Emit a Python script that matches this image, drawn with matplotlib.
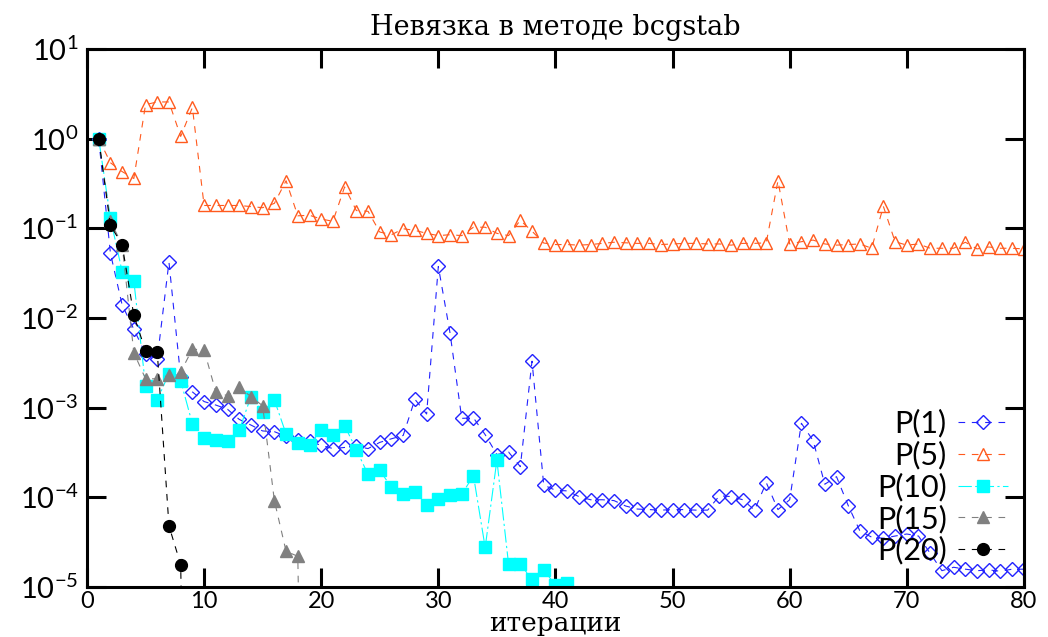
import numpy as np
import matplotlib
matplotlib.use('Agg')
import matplotlib.pyplot as plt
from matplotlib.ticker import NullLocator, FixedLocator

plt.rcParams['font.family'] = ['Lato', 'DejaVu Sans']
plt.rcParams['mathtext.fontset'] = 'custom'
plt.rcParams['mathtext.rm'] = 'Lato'

# невязка по итерациям для разных предобуславливателей
it_p1 = list(range(1, 81))
res_p1 = [1.0, 0.053, 0.014, 0.0075, 0.004, 0.0035, 0.042, 0.0022, 0.0015, 0.00117,
          0.00107, 0.00096, 0.00074, 0.00064, 0.00055, 0.00054, 0.00048, 0.00044, 0.00042, 0.00038,
          0.00035, 0.00036, 0.00037, 0.00035, 0.00041, 0.00045, 0.00049, 0.00124, 0.00085, 0.0376,
          0.0068, 0.00076, 0.00077, 0.0005, 0.0003, 0.00032, 0.00022, 0.0033, 0.000137, 0.00012,
          0.000118, 0.000102, 0.000094, 0.000094, 0.000092, 0.00008, 0.000074, 0.000073, 0.000072, 0.000073,
          0.000073, 0.000072, 0.000072, 0.000104, 0.000102, 0.000094, 0.000072, 0.000146, 0.000073, 0.000094,
          0.00067, 0.00043, 0.00014, 0.00017, 0.000081, 0.000042, 0.000036, 0.000035, 0.000037, 0.000039,
          0.000037, 0.0000237, 0.0000152, 0.0000166, 0.0000158, 0.0000152, 0.0000155, 0.000015, 0.0000158, 0.0000158]

it_p5 = list(range(1, 81))
res_p5 = [1.0, 0.54, 0.43, 0.36, 2.4, 2.57, 2.57, 1.06, 2.23, 0.18,
          0.18, 0.18, 0.18, 0.175, 0.17, 0.19, 0.34, 0.138, 0.14, 0.127,
          0.12, 0.29, 0.158, 0.155, 0.091, 0.085, 0.099, 0.095, 0.088, 0.083,
          0.085, 0.083, 0.103, 0.103, 0.088, 0.083, 0.123, 0.093, 0.0686, 0.066,
          0.066, 0.065, 0.066, 0.068, 0.07, 0.069, 0.068, 0.068, 0.066, 0.067,
          0.068, 0.068, 0.067, 0.067, 0.065, 0.068, 0.068, 0.069, 0.34, 0.067,
          0.071, 0.074, 0.067, 0.065, 0.066, 0.067, 0.06, 0.176, 0.071, 0.065,
          0.067, 0.06, 0.06, 0.06, 0.07, 0.059, 0.062, 0.06, 0.06, 0.059]

it_p10 = list(range(1, 42))
res_p10 = [1.0, 0.13, 0.033, 0.026, 0.00175, 0.00122, 0.0024, 0.002, 0.00066, 0.00046,
           0.00044, 0.00042, 0.00056, 0.00133, 0.00089, 0.00122, 0.00051, 0.0004, 0.00038, 0.00057,
           0.0005, 0.00063, 0.00034, 0.00018, 0.0002, 0.000129, 0.000108, 0.000116, 0.000082, 0.000095,
           0.000105, 0.000108, 0.000175, 0.0000276, 0.00026, 0.0000179, 0.0000179, 0.0000122, 0.0000155, 0.0000105,
           0.0000112]

it_p15 = list(range(1, 20))
res_p15 = [1.0, 0.12, 0.066, 0.0041, 0.0021, 0.0021, 0.0023, 0.0025, 0.0045, 0.0044,
           0.0015, 0.00136, 0.00168, 0.00133, 0.00105, 0.000092, 0.000025, 0.000022, 1e-12]

it_p20 = list(range(1, 10))
res_p20 = [1.0, 0.108, 0.066, 0.0107, 0.0043, 0.0042, 0.000048, 0.0000178, 1e-12]

xticks = [0, 10, 20, 30, 40, 50, 60, 70, 80]

fig = plt.figure(figsize=(10.48, 6.37), dpi=100)
ax = fig.add_axes([0.083, 0.0785, 0.894, 0.8445])

ax.plot(it_p1, res_p1, color='#2222ff', ls=(0, (6, 6)), lw=0.8,
        marker='D', ms=7, mfc='none', mec='#2222ff', mew=1.0, label='P(1)')
ax.plot(it_p5, res_p5, color='#ff5a1e', ls=(0, (6, 6)), lw=0.8,
        marker='^', ms=9, mfc='none', mec='#ff5a1e', mew=1.0, label='P(5)')
ax.plot(it_p10, res_p10, color='#00ffff', ls=(0, (12, 3, 2, 3)), lw=0.8,
        marker='s', ms=8.5, mfc='#00ffff', mec='#00ffff', label='P(10)')
ax.plot(it_p15, res_p15, color='#808080', ls=(0, (6, 6)), lw=0.8,
        marker='^', ms=8, mfc='#808080', mec='#808080', label='P(15)')
ax.plot(it_p20, res_p20, color='black', ls=(0, (6, 6)), lw=0.8,
        marker='o', ms=8.5, mfc='black', mec='black', label='P(20)')

ax.set_yscale('log')
ax.set_xlim(0, 80)
ax.set_ylim(1e-5, 10)
ax.xaxis.set_major_locator(FixedLocator(xticks))
ax.yaxis.set_major_locator(FixedLocator([1e-5, 1e-4, 1e-3, 1e-2, 1e-1, 1, 10]))
ax.yaxis.set_minor_locator(NullLocator())
ax.xaxis.set_minor_locator(NullLocator())

for s in ax.spines.values():
    s.set_linewidth(2.2)
ax.tick_params(direction='in', length=14, width=2.2, top=True, right=True)
ax.tick_params(axis='y', labelsize=21, pad=6)
ax.tick_params(axis='x', labelsize=17, pad=3)

ax.set_title('Невязка в методе bcgstab', fontsize=19.5, family='DejaVu Serif', pad=10)
fig.text(0.53, 0.021, 'итерации', fontsize=19, family='DejaVu Serif', ha='center', va='center')

ax.legend(loc='center right', bbox_to_anchor=(0.983, 0.186), markerfirst=False,
          frameon=False, fontsize=22, handlelength=1.65, labelspacing=0.1,
          handletextpad=0.35, borderpad=0, borderaxespad=0)

fig.savefig('out.png', dpi=100)
